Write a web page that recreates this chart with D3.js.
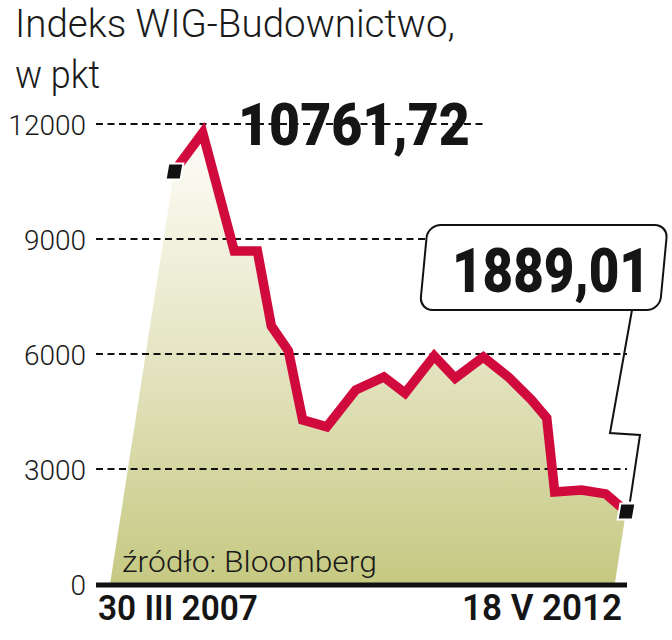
<!DOCTYPE html>
<html>
<head>
<meta charset="utf-8">
<script src="https://cdn.jsdelivr.net/npm/d3@7"></script>
<style>
  html, body { margin: 0; padding: 0; background: #fff; }
  svg { display: block; }
</style>
</head>
<body>
<svg id="chart" width="672" height="640"></svg>
<script>
// data
const dates = [
  "2007-03-30", "2007-07-27", "2007-12-05", "2008-03-10", "2008-05-07",
  "2008-07-17", "2008-09-14", "2008-12-23", "2009-04-22", "2009-08-17",
  "2009-11-13", "2010-03-14", "2010-06-09", "2010-10-04", "2011-01-16",
  "2011-04-22", "2011-06-24", "2011-07-27", "2011-11-16", "2012-02-24",
  "2012-04-23", "2012-05-18"
];
const values = [
  10761.72, 11770, 8690, 8690, 6730,
  6080, 4280, 4100, 5060, 5400,
  4980, 5950, 5370, 5920, 5400,
  4800, 4330, 2400, 2450, 2350,
  2030, 1889.01
];
const yTicks = [0, 3000, 6000, 9000, 12000];
const startLabel = "30 III 2007";
const endLabel = "18 V 2012";
const firstValueLabel = "10761,72";
const lastValueLabel = "1889,01";

const parse = d3.timeParse("%Y-%m-%d");
const data = dates.map((d, i) => ({ date: parse(d), value: values[i] }));

const svg = d3.select("#chart");
const light = "Roboto, 'Liberation Sans', sans-serif";
const heavy = "Roboto, 'DejaVu Sans', sans-serif";

// squeeze a text horizontally to a given width, anchored at (x, y)
function fitText(sel, x, y, width) {
  const len = sel.node().getComputedTextLength();
  sel.attr("transform", `translate(${x},${y}) scale(${width / len},1)`);
  return sel;
}

const x = d3.scaleTime()
  .domain(d3.extent(data, d => d.date))
  .range([174, 626]);
const y = d3.scaleLinear()
  .domain([0, 12000])
  .range([584, 124]);

// gradient for the area
const grad = svg.append("defs").append("linearGradient")
  .attr("id", "fillGrad")
  .attr("gradientUnits", "userSpaceOnUse")
  .attr("x1", 0).attr("x2", 0)
  .attr("y1", y(11000)).attr("y2", y(0));
grad.append("stop").attr("offset", "0%").attr("stop-color", "#fbfaf2");
grad.append("stop").attr("offset", "45%").attr("stop-color", "#e5e5c4");
grad.append("stop").attr("offset", "100%").attr("stop-color", "#c5c981");

// title
const title = svg.append("g")
  .style("font-family", light)
  .style("font-weight", 300)
  .style("font-size", "38px")
  .attr("fill", "#1a1a1a");
fitText(title.append("text").text("Indeks WIG-Budownictwo,"), 15, 37, 440);
fitText(title.append("text").text("w pkt"), 15, 88, 85);

// area with slanted sides
const base = y(0);
const slant = 0.155;
const first = data[0], last = data[data.length - 1];
const areaPts = [[x(first.date) - slant * (base - y(first.value)), base]]
  .concat(data.map(d => [x(d.date), y(d.value)]))
  .concat([[x(last.date) - slant * (base - y(last.value)), base]]);
svg.append("path")
  .attr("d", d3.line()(areaPts) + "Z")
  .attr("fill", "url(#fillGrad)");

// dashed gridlines
svg.append("g")
  .selectAll("line")
  .data(yTicks.filter(t => t > 0))
  .join("line")
  .attr("x1", 96)
  .attr("x2", d => d === 12000 ? 487 : 627)
  .attr("y1", d => y(d))
  .attr("y2", d => y(d))
  .attr("stroke", "#111")
  .attr("stroke-width", 2)
  .attr("stroke-dasharray", "7,4.5");

// baseline
svg.append("line")
  .attr("x1", 96).attr("x2", 627)
  .attr("y1", base + 1).attr("y2", base + 1)
  .attr("stroke", "#111")
  .attr("stroke-width", 5);

// y axis labels
const yAxis = svg.append("g")
  .attr("transform", "translate(86,0)")
  .call(d3.axisLeft(y).tickValues(yTicks).tickSize(0).tickPadding(0)
    .tickFormat(d3.format("d")));
yAxis.select(".domain").remove();
yAxis.selectAll("text")
  .style("font-family", light)
  .style("font-weight", 300)
  .style("font-size", "28px")
  .attr("fill", "#1a1a1a")
  .attr("dy", "0.36em");

// source
fitText(svg.append("text")
  .style("font-family", light)
  .style("font-weight", 300)
  .style("font-size", "29px")
  .attr("fill", "#1a1a1a")
  .text("źródło: Bloomberg"), 122, 572, 255);

// the index line
svg.append("path")
  .datum(data)
  .attr("d", d3.line().x(d => x(d.date)).y(d => y(d.value)))
  .attr("fill", "none")
  .attr("stroke", "#d00a3c")
  .attr("stroke-width", 9.5)
  .attr("stroke-linejoin", "miter")
  .attr("stroke-miterlimit", 3);

// end markers
svg.append("g")
  .selectAll("rect")
  .data([first, last])
  .join("rect")
  .attr("x", -7).attr("y", -8)
  .attr("width", 15).attr("height", 16)
  .attr("transform", d => `translate(${x(d.date)},${y(d.value)}) skewX(-10)`)
  .attr("fill", "#111")
  .attr("stroke", "#fff")
  .attr("stroke-width", 2);

// callout for last value
const lx = x(last.date), ly = y(last.value);
svg.append("path")
  .attr("d", d3.line()([[632, 310], [610, 433], [640, 435], [lx + 4, ly - 10]]))
  .attr("fill", "none")
  .attr("stroke", "#111")
  .attr("stroke-width", 2);
svg.append("rect")
  .attr("x", 424).attr("y", 225)
  .attr("width", 240).attr("height", 85)
  .attr("rx", 13)
  .attr("transform", "translate(25,0) skewX(-5.4)")
  .attr("fill", "#fff")
  .attr("stroke", "#111")
  .attr("stroke-width", 2);

fitText(svg.append("text")
  .style("font-family", heavy)
  .style("font-weight", 900)
  .style("font-size", "62px")
  .attr("fill", "#151515")
  .text(lastValueLabel), 452, 292, 198);

fitText(svg.append("text")
  .style("font-family", heavy)
  .style("font-weight", 900)
  .style("font-size", "60px")
  .attr("fill", "#151515")
  .text(firstValueLabel), 238, 145, 232);

// date labels
const dl = svg.append("g")
  .style("font-family", heavy)
  .style("font-weight", 600)
  .style("font-size", "36px")
  .attr("fill", "#151515");
fitText(dl.append("text").text(startLabel), 98, 620, 160);
fitText(dl.append("text").text(endLabel), 462, 620, 160);
</script>
</body>
</html>
